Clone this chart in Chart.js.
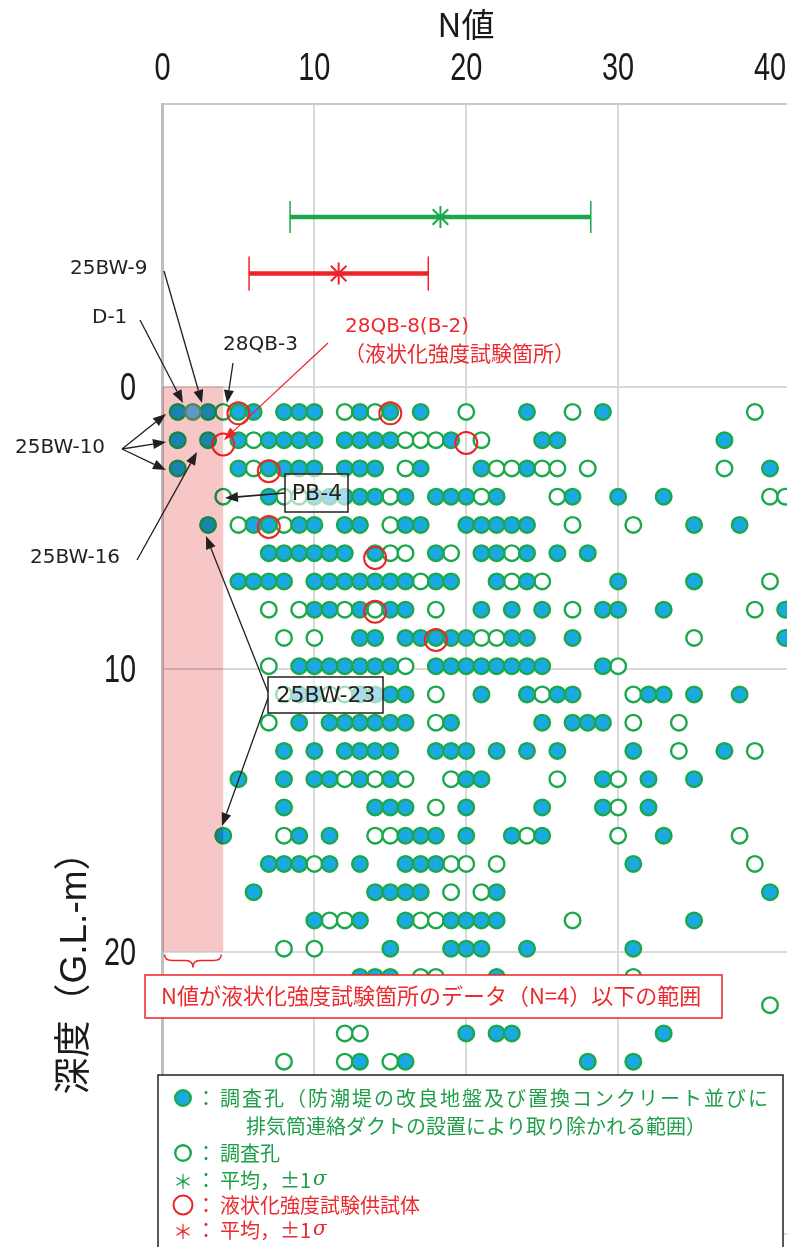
<!DOCTYPE html>
<html>
<head>
<meta charset="utf-8">
<script src="https://cdn.jsdelivr.net/npm/chart.js@4.4.1/dist/chart.umd.min.js"></script>
<style>
  html, body { margin: 0; padding: 0; background: #fff; overflow: hidden; }
  #wrap { position: relative; width: 787px; height: 1247px; }
</style>
</head>
<body>
<div id="wrap"><canvas id="myChart"></canvas></div>
<script>
// depth of each boring row (G.L.-m)
const rowDepths = [0.9, 1.9, 2.9, 3.9, 4.9, 5.9, 6.9, 7.9, 8.9, 9.9, 10.9, 11.9,
  12.9, 13.9, 14.9, 15.9, 16.9, 17.9, 18.9, 19.9, 20.9, 21.9, 22.9, 23.9];

// N values of filled markers (holes removed by the works), one list per row
const filledN = [
  [1, 3, 5, 6, 8, 9, 10, 13, 15, 17, 24, 29],
  [1, 3, 5, 7, 8, 9, 10, 12, 13, 14, 15, 19, 25, 26, 37],
  [1, 5, 7, 8, 9, 10, 12, 13, 14, 17, 21, 24, 40],
  [7, 10, 11, 12, 13, 14, 16, 18, 19, 20, 22, 27, 30, 33],
  [3, 6, 7, 9, 10, 12, 13, 16, 17, 20, 21, 22, 23, 24, 35, 38],
  [7, 8, 9, 10, 11, 12, 14, 18, 21, 22, 24, 26, 28],
  [5, 6, 7, 8, 10, 11, 12, 13, 14, 15, 16, 18, 19, 22, 24, 30, 35],
  [10, 11, 13, 15, 16, 21, 23, 25, 29, 30, 33, 41],
  [13, 14, 16, 17, 18, 19, 20, 23, 24, 27, 41],
  [9, 10, 11, 12, 13, 14, 15, 18, 19, 20, 21, 22, 23, 24, 25, 29],
  [9, 10, 13, 14, 15, 16, 21, 24, 26, 27, 32, 33, 35, 38],
  [9, 11, 12, 13, 14, 15, 16, 19, 25, 27, 28, 29],
  [8, 10, 12, 13, 14, 15, 18, 19, 20, 22, 24, 26, 31, 37],
  [5, 8, 10, 11, 13, 15, 20, 21, 29, 32, 35],
  [8, 14, 15, 16, 20, 25, 29, 32],
  [4, 9, 11, 16, 17, 18, 20, 23, 25, 33],
  [7, 8, 9, 11, 13, 16, 17, 18, 31],
  [6, 14, 15, 16, 17, 22, 40],
  [10, 13, 16, 19, 20, 21, 22, 35],
  [15, 19, 20, 21, 24, 31],
  [13, 14, 15, 22],
  [],
  [20, 22, 23, 33],
  [13, 16, 28, 31],
];

// N values of hollow markers, one list per row
const hollowN = [
  [4, 12, 14, 20, 27, 39],
  [6, 16, 17, 18, 21],
  [6, 16, 22, 23, 25, 26, 28, 37],
  [4, 8, 9, 15, 21, 26, 40, 41],
  [5, 8, 15, 27, 31],
  [15, 16, 19, 23],
  [17, 23, 25, 40],
  [7, 9, 12, 14, 18, 27, 39],
  [8, 10, 21, 22, 35],
  [7, 16, 30],
  [8, 11, 12, 18, 25, 31],
  [7, 18, 31, 34],
  [34, 39],
  [12, 14, 16, 19, 26, 30],
  [18, 30],
  [8, 14, 15, 24, 30, 38],
  [10, 19, 20, 22, 39],
  [19, 21],
  [11, 12, 17, 18, 27],
  [8, 10],
  [17, 18, 31],
  [40],
  [12, 13],
  [8, 12, 15],
];

// 25BW-9 (drawn in a lighter blue)
const markN = [2];
const markDepth = [0.9];

// liquefaction test specimens
const redN = [5, 15, 4, 20, 7, 7, 14, 14, 18];
const redDepth = [0.95, 0.95, 2.05, 2.0, 3.0, 4.97, 6.07, 7.97, 8.97];

// mean and +-1 sigma : [all holes, test specimens]
const meanN = [18.3, 11.6];
const sdN = [9.9, 5.9];
const meanDepth = [-6, -4];

const xTicks = [0, 10, 20, 30, 40];
const yTicks = [0, 10, 20];
const pinkN = 4;
const pinkDepth = 20;

const green = "#1ba84b";
const cyan = "#1aa9e1";
const red = "#ee2328";
const txtGreen = "#1f9e4a";
const txtRed = "#ea2a2e";

function rowPoints(rows) {
  const pts = [];
  rows.forEach((vals, i) => vals.forEach((n) => pts.push({ x: n, y: rowDepths[i] })));
  return pts;
}

function barPoints(i) {
  return [
    { x: meanN[i] - sdN[i], y: meanDepth[i] },
    { x: meanN[i] + sdN[i], y: meanDepth[i] },
  ];
}

function arrow(ctx, x0, y0, x1, y1, color, lw) {
  const a = Math.atan2(y1 - y0, x1 - x0);
  const L = 13, W = 5;
  const bx = x1 - L * Math.cos(a), by = y1 - L * Math.sin(a);
  ctx.strokeStyle = color;
  ctx.fillStyle = color;
  ctx.lineWidth = lw;
  ctx.beginPath();
  ctx.moveTo(x0, y0);
  ctx.lineTo(bx, by);
  ctx.stroke();
  ctx.beginPath();
  ctx.moveTo(x1, y1);
  ctx.lineTo(bx + W * Math.sin(a), by - W * Math.cos(a));
  ctx.lineTo(bx - W * Math.sin(a), by + W * Math.cos(a));
  ctx.closePath();
  ctx.fill();
}

function dot(ctx, x, y, r, fill, stroke, lw) {
  ctx.beginPath();
  ctx.arc(x, y, r, 0, Math.PI * 2);
  if (fill) { ctx.fillStyle = fill; ctx.fill(); }
  ctx.strokeStyle = stroke;
  ctx.lineWidth = lw;
  ctx.stroke();
}

// condensed tick digits
function narrowText(ctx, s, x, y, align) {
  ctx.save();
  ctx.translate(x, y);
  ctx.scale(0.76, 1);
  ctx.textAlign = align;
  ctx.fillText(s, 0, 0);
  ctx.restore();
}

const overlay = {
  id: "overlay",
  afterDatasetsDraw(chart) {
    const { ctx } = chart;
    const xs = chart.scales.x, ys = chart.scales.y;
    // pink band (N <= 4, depth 0-20), multiplied over the markers
    const x0 = xs.getPixelForValue(0), x1 = xs.getPixelForValue(pinkN);
    const y0 = ys.getPixelForValue(0), y1 = ys.getPixelForValue(pinkDepth);
    ctx.save();
    ctx.globalCompositeOperation = "multiply";
    ctx.fillStyle = "#f7c7c8";
    ctx.fillRect(x0, y0, x1 - x0, y1 - y0);
    ctx.restore();
  },
  afterDraw(chart) {
    const { ctx } = chart;
    const xs = chart.scales.x, ys = chart.scales.y;
    ctx.save();

    // axis tick labels
    ctx.fillStyle = "#1a1a1a";
    ctx.font = '38px "Liberation Sans", sans-serif';
    ctx.textBaseline = "alphabetic";
    xTicks.forEach((v) => narrowText(ctx, String(v), xs.getPixelForValue(v), 80, "center"));
    yTicks.forEach((v) => narrowText(ctx, String(v), 136, ys.getPixelForValue(v) + 13, "right"));

    // titles
    ctx.textAlign = "center";
    ctx.textBaseline = "middle";
    ctx.font = '33px "Noto Sans CJK JP", sans-serif';
    ctx.fillText("N値", 466, 24);
    ctx.save();
    ctx.translate(76, 964);
    ctx.rotate(-Math.PI / 2);
    ctx.font = '37px "Liberation Sans", "Noto Sans CJK JP", sans-serif';
    ctx.fillText("深度（G.L.-m）", 0, 0);
    ctx.restore();

    // boxed labels over the markers
    ctx.fillStyle = "rgba(255,255,255,0.6)";
    ctx.fillRect(285, 474, 63, 38);
    ctx.fillRect(268, 677, 115, 36);
    ctx.strokeStyle = "#231f20";
    ctx.lineWidth = 1.5;
    ctx.strokeRect(285, 474, 63, 38);
    ctx.strokeRect(268, 677, 115, 36);
    ctx.fillStyle = "#231f20";
    ctx.font = '22px "DejaVu Sans", sans-serif';
    ctx.fillText("PB-4", 317, 494);
    ctx.fillText("25BW-23", 326, 696);

    // arrows
    const k = "#231f20";
    arrow(ctx, 140, 320, 183, 403, k, 1.3);
    arrow(ctx, 164, 271, 202, 403, k, 1.3);
    arrow(ctx, 233, 363, 227, 403, k, 1.3);
    arrow(ctx, 122, 449, 166, 414, k, 1.3);
    arrow(ctx, 122, 449, 166, 442, k, 1.3);
    arrow(ctx, 122, 449, 166, 470, k, 1.3);
    arrow(ctx, 137, 560, 197, 452, k, 1.3);
    arrow(ctx, 285, 493, 225, 498, k, 1.6);
    arrow(ctx, 268, 692, 206, 536, k, 1.3);
    arrow(ctx, 268, 698, 222, 826, k, 1.3);
    arrow(ctx, 328, 343, 224, 440, red, 1.2);

    // free labels
    ctx.textAlign = "left";
    ctx.fillStyle = "#231f20";
    ctx.font = '20px "DejaVu Sans", sans-serif';
    ctx.fillText("25BW-9", 70, 269);
    ctx.fillText("D-1", 92, 318);
    ctx.fillText("28QB-3", 223, 345);
    ctx.fillText("25BW-10", 15, 448);
    ctx.fillText("25BW-16", 30, 558);
    ctx.fillStyle = txtRed;
    ctx.fillText("28QB-8(B-2)", 345, 327);
    ctx.font = '21px "Noto Sans CJK JP", sans-serif';
    ctx.fillText("（液状化強度試験箇所）", 344, 353);

    // brace under the pink band
    const bx0 = xs.getPixelForValue(0) + 2, bx1 = xs.getPixelForValue(pinkN) - 2;
    const by = ys.getPixelForValue(pinkDepth) + 3;
    const mid = (bx0 + bx1) / 2;
    ctx.strokeStyle = red;
    ctx.lineWidth = 1.5;
    ctx.beginPath();
    ctx.moveTo(bx0, by);
    ctx.quadraticCurveTo(bx0, by + 6, bx0 + 8, by + 6);
    ctx.lineTo(mid - 7, by + 6);
    ctx.quadraticCurveTo(mid, by + 6, mid, by + 13);
    ctx.quadraticCurveTo(mid, by + 6, mid + 7, by + 6);
    ctx.lineTo(bx1 - 8, by + 6);
    ctx.quadraticCurveTo(bx1, by + 6, bx1, by);
    ctx.stroke();

    // red note box
    ctx.fillStyle = "#fff";
    ctx.fillRect(145, 975, 577, 43);
    ctx.strokeStyle = red;
    ctx.lineWidth = 1.5;
    ctx.strokeRect(145, 975, 577, 43);
    ctx.fillStyle = txtRed;
    ctx.font = '22px "Noto Sans CJK JP", sans-serif';
    ctx.fillText("N値が液状化強度試験箇所のデータ（N=4）以下の範囲", 161, 996);

    // legend
    ctx.fillStyle = "#fff";
    ctx.fillRect(158, 1075, 625, 200);
    ctx.strokeStyle = "#231f20";
    ctx.lineWidth = 1.5;
    ctx.strokeRect(158, 1075, 625, 200);

    const lx = 183;
    dot(ctx, lx, 1098, 7.8, cyan, green, 2.4);
    dot(ctx, lx, 1153, 7.8, "#fff", green, 2.4);
    dot(ctx, lx, 1205, 9.5, null, red, 2);

    ctx.font = '20px "Noto Sans CJK JP", sans-serif';
    ctx.textAlign = "center";
    ctx.fillStyle = txtGreen;
    ctx.fillText("＊", lx, 1181);
    ctx.fillStyle = txtRed;
    ctx.fillText("＊", lx, 1231);

    ctx.textAlign = "left";
    ctx.fillStyle = txtGreen;
    ctx.fillText("：", 196, 1098);
    ctx.fillText("：", 196, 1153);
    ctx.fillText("：", 196, 1180);
    ctx.save();
    ctx.letterSpacing = "2px";
    ctx.fillText("調査孔（防潮堤の改良地盤及び置換コンクリート並びに", 220, 1098);
    ctx.restore();
    ctx.fillText("排気筒連絡ダクトの設置により取り除かれる範囲）", 246, 1126);
    ctx.fillText("調査孔", 220, 1153);
    const s1 = "平均，±1";
    ctx.fillText(s1, 220, 1180);
    const w1 = ctx.measureText(s1).width;
    ctx.font = 'italic 20px "DejaVu Serif", serif';
    ctx.fillText("σ", 222 + w1, 1180);

    ctx.font = '20px "Noto Sans CJK JP", sans-serif';
    ctx.fillStyle = txtRed;
    ctx.fillText("：", 196, 1205);
    ctx.fillText("：", 196, 1230);
    ctx.fillText("液状化強度試験供試体", 220, 1205);
    ctx.fillText(s1, 220, 1230);
    ctx.font = 'italic 20px "DejaVu Serif", serif';
    ctx.fillText("σ", 222 + w1, 1230);

    ctx.restore();
  },
};

new Chart("myChart", {
  type: "scatter",
  data: {
    datasets: [
      {
        data: rowPoints(hollowN),
        pointRadius: 7.8,
        pointBackgroundColor: "#fff",
        pointBorderColor: green,
        pointBorderWidth: 2.4,
        order: 6,
      },
      {
        data: rowPoints(filledN),
        pointRadius: 7.8,
        pointBackgroundColor: cyan,
        pointBorderColor: green,
        pointBorderWidth: 2.4,
        order: 5,
      },
      {
        data: markN.map((n, i) => ({ x: n, y: markDepth[i] })),
        pointRadius: 7.8,
        pointBackgroundColor: "#5dc4ff",
        pointBorderColor: "#5aa870",
        pointBorderWidth: 2.4,
        order: 4,
      },
      {
        data: redN.map((n, i) => ({ x: n, y: redDepth[i] })),
        pointRadius: 11,
        pointBackgroundColor: "rgba(0,0,0,0)",
        pointBorderColor: red,
        pointBorderWidth: 2,
        order: 3,
      },
      {
        type: "line",
        data: barPoints(0),
        borderColor: green,
        borderWidth: 4.5,
        pointStyle: "line",
        pointRotation: 90,
        pointRadius: 16,
        pointBorderColor: green,
        pointBorderWidth: 1.5,
        order: 2,
      },
      {
        type: "line",
        data: barPoints(1),
        borderColor: red,
        borderWidth: 4.5,
        pointStyle: "line",
        pointRotation: 90,
        pointRadius: 17,
        pointBorderColor: red,
        pointBorderWidth: 1.5,
        order: 2,
      },
      {
        data: [{ x: meanN[0], y: meanDepth[0] }],
        pointStyle: "star",
        pointRadius: 11,
        pointBorderColor: green,
        pointBorderWidth: 2,
        order: 1,
      },
      {
        data: [{ x: meanN[1], y: meanDepth[1] }],
        pointStyle: "star",
        pointRadius: 11,
        pointBorderColor: red,
        pointBorderWidth: 2,
        order: 1,
      },
    ],
  },
  options: {
    responsive: true,
    maintainAspectRatio: false,
    animation: false,
    events: [],
    layout: { autoPadding: false, padding: { left: 162.5, top: 104, right: 0, bottom: 13 } },
    plugins: {
      legend: { display: false },
      tooltip: { enabled: false },
    },
    scales: {
      x: {
        type: "linear",
        position: "top",
        min: 0,
        max: 41.12,
        ticks: { display: false, stepSize: 10 },
        afterBuildTicks: (s) => { s.ticks = s.ticks.filter((t) => t.value % 10 === 0); },
        afterFit: (s) => { s.height = 0; },
        grid: { color: "#d9d9d9", lineWidth: 2, drawTicks: false },
        border: { color: "#cbcbcb", width: 2 },
      },
      y: {
        type: "linear",
        reverse: true,
        min: -10,
        max: 30,
        ticks: { display: false, stepSize: 10 },
        afterFit: (s) => { s.width = 0; },
        grid: { color: "#d9d9d9", lineWidth: 2, drawTicks: false },
        border: { color: "#bfbfbf", width: 3 },
      },
    },
  },
  plugins: [overlay],
});
</script>
</body>
</html>
